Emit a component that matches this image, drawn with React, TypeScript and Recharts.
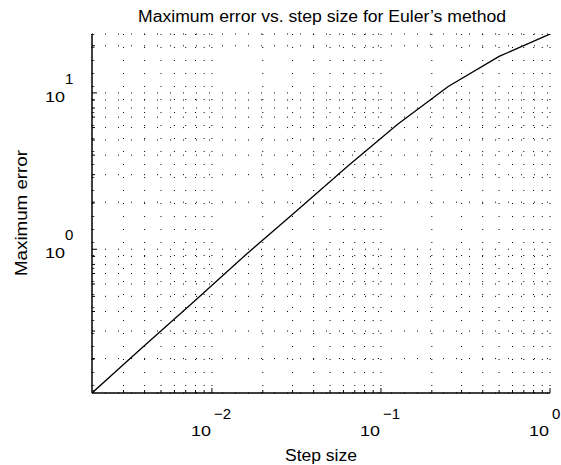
import { LineChart, Line, XAxis, YAxis, CartesianGrid } from 'recharts'

// step sizes h = 1/2^k and the max error
const steps = [1, 0.5, 0.25, 0.125, 0.0625, 0.03125, 0.015625, 0.0078125, 0.00390625, 0.001953125]
const errors = [23.8, 17.1, 11.0, 6.27, 3.34, 1.74, 0.909, 0.462, 0.237, 0.1205]

// log ticks (minor + major), majors get a 10^n label
const xTicks = [
  0.002, 0.003, 0.004, 0.005, 0.006, 0.007, 0.008, 0.009,
  0.01, 0.02, 0.03, 0.04, 0.05, 0.06, 0.07, 0.08, 0.09,
  0.1, 0.2, 0.3, 0.4, 0.5, 0.6, 0.7, 0.8, 0.9, 1
]
const yTicks = [0.2, 0.3, 0.4, 0.5, 0.6, 0.7, 0.8, 0.9, 1, 2, 3, 4, 5, 6, 7, 8, 9, 10, 20]
const xMajor = [0.01, 0.1, 1]
const yMajor = [1, 10]

const title = 'Maximum error vs. step size for Euler\u2019s method'
const xLabel = 'Step size'
const yLabel = 'Maximum error'

const data = steps.map((h, i) => ({ h, err: errors[i] }))
const FONT = '"Liberation Sans", Arial, Helvetica, sans-serif'

const isMajor = (v: number, list: number[]) => list.some(m => Math.abs(v - m) / m < 1e-6)
const expOf = (v: number) => {
  const e = Math.round(Math.log10(v))
  return e < 0 ? '\u2212' + Math.abs(e) : String(e)
}

const XTick = (props: any) => {
  const { x, y, payload } = props
  const v = payload.value
  const major = isMajor(v, xMajor)
  return (
    <g>
      <line x1={x} y1={y} x2={x} y2={y - (major ? 5 : 3)} stroke="#000" strokeWidth={1} />
      {major && (
        <g fontFamily={FONT} fill="#000">
          <text x={x - 1} y={y + 43} textAnchor="end" fontSize={15} textLength={20} lengthAdjust="spacingAndGlyphs">10</text>
          <text x={x + 2} y={y + 26} textAnchor="start" fontSize={15}>{expOf(v)}</text>
        </g>
      )}
    </g>
  )
}

const YTick = (props: any) => {
  const { x, y, payload } = props
  const v = payload.value
  const major = isMajor(v, yMajor)
  return (
    <g>
      <line x1={x} y1={y} x2={x + (major ? 5 : 3)} y2={y} stroke="#000" strokeWidth={1} />
      {major && (
        <g fontFamily={FONT} fill="#000">
          <text x={x - 27} y={y + 9} textAnchor="end" fontSize={15} textLength={20} lengthAdjust="spacingAndGlyphs">10</text>
          <text x={x - 27} y={y - 9} textAnchor="start" fontSize={15}>{expOf(v)}</text>
        </g>
      )}
    </g>
  )
}

export default function App() {
  return (
    <div style={{ position: 'absolute', left: 0, top: 0, width: 561, height: 465, background: '#fff' }}>
      <LineChart width={561} height={465} data={data} margin={{ top: 34, right: 11, bottom: 0, left: 0 }}>
        <CartesianGrid stroke="#000" strokeDasharray="1 12" strokeWidth={1} />
        <XAxis
          dataKey="h"
          type="number"
          scale="log"
          domain={[steps[steps.length - 1], steps[0]]}
          ticks={xTicks}
          allowDataOverflow
          height={72}
          tickSize={0}
          tickMargin={0}
          tickLine={false}
          interval={0}
          axisLine={{ stroke: '#000', strokeWidth: 1.5 }}
          tick={<XTick />}
        />
        <YAxis
          type="number"
          scale="log"
          domain={[Math.min(...errors), Math.max(...errors)]}
          ticks={yTicks}
          allowDataOverflow
          width={92}
          tickSize={0}
          tickMargin={0}
          tickLine={false}
          interval={0}
          axisLine={{ stroke: '#000', strokeWidth: 1.5 }}
          tick={<YTick />}
        />
        <Line dataKey="err" stroke="#000" strokeWidth={1.3} dot={false} isAnimationActive={false} />
      </LineChart>
      <svg width={561} height={465} style={{ position: 'absolute', left: 0, top: 0, pointerEvents: 'none' }}>
        <g fontFamily={FONT} fill="#000" fontSize={16}>
          <text x={322} y={21.5} textAnchor="middle" textLength={368} lengthAdjust="spacingAndGlyphs">{title}</text>
          <text x={321} y={461} textAnchor="middle" textLength={72} lengthAdjust="spacingAndGlyphs">{xLabel}</text>
          <text x={27} y={213} textAnchor="middle" transform="rotate(-90 27 213)" textLength={126} lengthAdjust="spacingAndGlyphs">{yLabel}</text>
        </g>
      </svg>
    </div>
  )
}
